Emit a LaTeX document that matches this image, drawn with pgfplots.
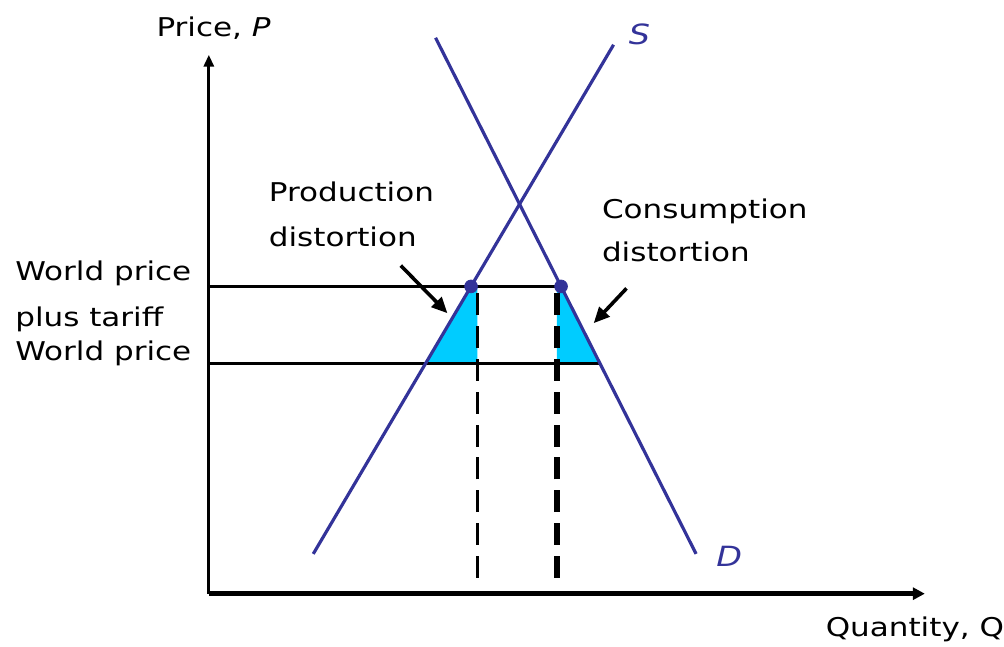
\documentclass[border=0pt]{standalone}
\usepackage{pgfplots}
\pgfplotsset{compat=1.18}
\usepackage{fontspec}
\setmainfont[FakeStretch=1.2]{DejaVu Sans}
\usetikzlibrary{arrows.meta}
\definecolor{sdblue}{RGB}{51,51,153}
\definecolor{tricyan}{RGB}{0,204,255}
\begin{document}
\begin{tikzpicture}[every node/.style={inner sep=0pt, font=\fontsize{13}{22}\selectfont}]
\begin{axis}[
  scale only axis, width=360pt, height=271pt,
  xmin=0, xmax=720, ymin=0, ymax=542,
  axis x line=bottom, axis y line=left,
  ticks=none, clip=false,
  x axis line style={line width=2.6pt, -{Triangle[length=6pt,width=6pt]}},
  y axis line style={line width=1.5pt, -{Triangle[length=6pt,width=5pt]}},
]
% distortion triangles
\addplot[fill=tricyan, draw=none] coordinates {(217.7,231) (263.7,309) (270,309) (270,231) (217.7,231)};
\addplot[fill=tricyan, draw=none] coordinates {(350,231) (350,309) (354.2,309) (393.6,231) (350,231)};
% price lines
\addplot[black, line width=1.5pt] coordinates {(0,309) (354.2,309)};
\addplot[black, line width=1.5pt] coordinates {(0,231) (393.6,231)};
% dashed quantity lines
\addplot[black, line width=1.3pt, dash pattern=on 11pt off 5.5pt] coordinates {(270,16) (270,309)};
\addplot[black, line width=2.8pt, dash pattern=on 11pt off 5.5pt] coordinates {(350,16) (350,309)};
% supply and demand
\addplot[sdblue, line width=1.6pt] coordinates {(105,40) (407,552)};
\addplot[sdblue, line width=1.6pt] coordinates {(228,559) (490,40)};
\addplot[sdblue, only marks, mark=*, mark size=3.2pt] coordinates {(263.7,309) (354.2,309)};
% arrows
\draw[line width=1.8pt, -{Triangle[length=8pt,width=7pt]}] (axis cs:193,330) -- (axis cs:240,282);
\draw[line width=1.8pt, -{Triangle[length=8pt,width=7pt]}] (axis cs:420,307) -- (axis cs:387,272);
% labels
\node[anchor=base west] at (axis cs:-53,560) {Price, \textit{P}};
\node[anchor=base west] at (axis cs:620,-43) {Quantity, Q};
\node[anchor=base west, text=sdblue, font=\fontsize{14}{16}\selectfont\itshape] at (axis cs:422,552) {S};
\node[anchor=base west, text=sdblue, font=\fontsize{14}{16}\selectfont\itshape] at (axis cs:510,27) {D};
\node[anchor=base west] at (axis cs:-195,315) {World price};
\node[anchor=base west] at (axis cs:-195,269) {plus tariff};
\node[anchor=base west] at (axis cs:-195,234) {World price};
\node[anchor=base west] at (axis cs:60,394) {Production};
\node[anchor=base west] at (axis cs:60,349) {distortion};
\node[anchor=base west] at (axis cs:395,377) {Consumption};
\node[anchor=base west] at (axis cs:395,334) {distortion};
\coordinate (bl) at (axis cs:-210,-53);
\coordinate (tr) at (axis cs:794,597);
\end{axis}
\useasboundingbox (bl) rectangle (tr);
\end{tikzpicture}
\end{document}
